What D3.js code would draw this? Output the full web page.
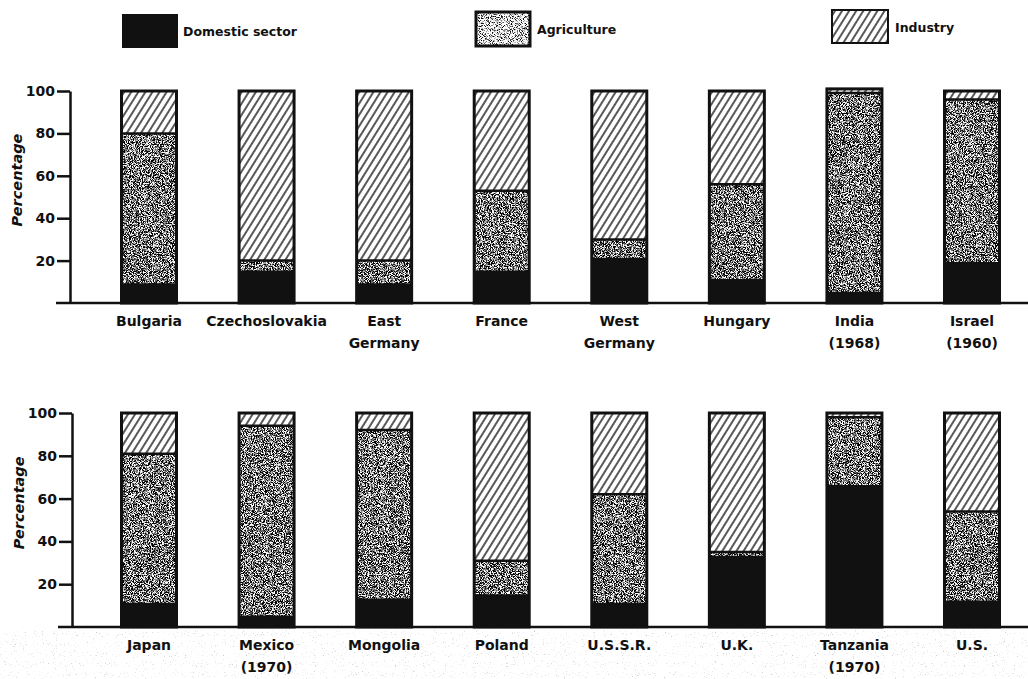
<!DOCTYPE html>
<meta charset="utf-8">
<head>
<script src="https://d3js.org/d3.v7.min.js"></script>
<style>
body { margin: 0; background: #fff; }
text { font-family: "DejaVu Sans", sans-serif; font-weight: bold; fill: #111; }
.tick text { font-size: 14px; }
</style>
</head>
<body>
<div id="chart"></div>
<script>
// legend / sector names
var sectors = ["Domestic sector", "Agriculture", "Industry"];

// top panel
var countriesTop = ["Bulgaria", "Czechoslovakia", "East\nGermany", "France", "West\nGermany", "Hungary", "India\n(1968)", "Israel\n(1960)"];
var domesticTop    = [9, 15, 9, 15, 21, 11, 5, 19];
var agricultureTop = [71, 5, 11, 38, 9, 45, 94, 77];
var industryTop    = [20, 80, 80, 47, 70, 44, 2, 4];

// bottom panel
var countriesBottom = ["Japan", "Mexico\n(1970)", "Mongolia", "Poland", "U.S.S.R.", "U.K.", "Tanzania\n(1970)", "U.S."];
var domesticBottom    = [11, 5, 13, 15, 11, 33, 66, 12];
var agricultureBottom = [70, 89, 79, 16, 51, 2, 32, 42];
var industryBottom    = [19, 6, 8, 69, 38, 65, 2, 46];

var yTicks = [20, 40, 60, 80, 100];

var W = 1028, H = 679;
var svg = d3.select("#chart").append("svg")
    .attr("width", W)
    .attr("height", H);

var defs = svg.append("defs");

// noise -> black speckle filter
function speckle(id, freq, seed, slope, intercept) {
  var f = defs.append("filter").attr("id", id)
      .attr("x", 0).attr("y", 0).attr("width", 1).attr("height", 1);
  f.append("feTurbulence").attr("type", "fractalNoise")
      .attr("baseFrequency", freq).attr("numOctaves", 2).attr("seed", seed);
  f.append("feColorMatrix").attr("type", "matrix")
      .attr("values", "0 0 0 0 0  0 0 0 0 0  0 0 0 0 0  1 0 0 0 0");
  f.append("feComponentTransfer").append("feFuncA")
      .attr("type", "linear").attr("slope", slope).attr("intercept", intercept);
}
speckle("stipple", 1.1, 4, -5, 3.05);
speckle("stippleLight", 1.1, 7, -5, 2.6);
speckle("scan", 0.9, 11, -5, 1.7);

// diagonal hatch for industry
var hatch = defs.append("pattern").attr("id", "hatch")
    .attr("patternUnits", "userSpaceOnUse")
    .attr("width", 6).attr("height", 6)
    .attr("patternTransform", "rotate(32)");
hatch.append("rect").attr("width", 6).attr("height", 6).attr("fill", "#fff");
hatch.append("line").attr("x1", 3).attr("y1", 0).attr("x2", 3).attr("y2", 6)
    .attr("stroke", "#111").attr("stroke-width", 1.4);

// scanner speckle along the bottom
svg.append("rect")
    .attr("x", 0).attr("y", 630).attr("width", W).attr("height", H - 630)
    .attr("fill", "#000").attr("opacity", 0.22)
    .attr("filter", "url(#scan)");

// legend
var legendX = [122, 476, 832];
var legend = svg.selectAll(".legend")
    .data(sectors)
    .enter().append("g")
    .attr("class", "legend")
    .attr("transform", function(d, i) { return "translate(" + legendX[i] + "," + (14 - i * 2) + ")"; });

legend.each(function(d, i) {
  var g = d3.select(this);
  if (i === 0) {
    g.append("rect").attr("width", 56).attr("height", 34).attr("fill", "#111");
  } else if (i === 1) {
    g.append("rect").attr("width", 54).attr("height", 34).attr("fill", "#fff");
    g.append("rect").attr("width", 54).attr("height", 34).attr("filter", "url(#stippleLight)");
    g.append("rect").attr("width", 54).attr("height", 34).attr("fill", "none")
      .attr("stroke", "#111").attr("stroke-width", 3);
  } else {
    g.append("rect").attr("width", 56).attr("height", 33).attr("fill", "url(#hatch)")
      .attr("stroke", "#111").attr("stroke-width", 2);
  }
  g.append("text")
    .attr("x", i === 2 ? 63 : 61)
    .attr("y", 22)
    .style("font-size", "12.5px")
    .text(d);
});

function panel(countries, dom, agr, ind, y0, y100, axisX, labelY) {
  var x = d3.scalePoint()
      .domain(countries)
      .range([149, 972]);

  var y = d3.scaleLinear()
      .domain([0, 100])
      .range([y0, y100]);

  var bw = 55;
  var g = svg.append("g");

  // baseline
  g.append("line")
      .attr("x1", axisX - 14).attr("x2", W)
      .attr("y1", y(0)).attr("y2", y(0))
      .attr("stroke", "#111").attr("stroke-width", 2.5);

  // y axis
  var ax = g.append("g")
      .attr("transform", "translate(" + axisX + ",0)")
      .call(d3.axisLeft(y).tickValues(yTicks).tickSize(13).tickSizeOuter(0).tickPadding(2));
  ax.select(".domain").attr("stroke", "#111").attr("stroke-width", 2.5);
  ax.selectAll(".tick line").attr("stroke", "#111").attr("stroke-width", 2.5);
  ax.selectAll(".tick text").attr("fill", "#111").style("font-size", "14px")
      .style("font-family", "'DejaVu Sans', sans-serif").style("font-weight", "bold");

  g.append("text")
      .attr("transform", "translate(" + (axisX - 48) + "," + y(58) + ") rotate(-90)")
      .attr("text-anchor", "middle")
      .style("font-size", "14.5px")
      .style("font-style", "italic")
      .text("Percentage");

  var rows = countries.map(function(c, i) {
    return {c: c, dom: dom[i], agr: agr[i], ind: ind[i]};
  });

  var bars = g.selectAll(".bar")
      .data(rows)
      .enter().append("g")
      .attr("class", "bar")
      .attr("transform", function(d) { return "translate(" + (x(d.c) - bw / 2) + ",0)"; });

  // domestic
  bars.append("rect")
      .attr("y", function(d) { return y(d.dom); })
      .attr("width", bw)
      .attr("height", function(d) { return y(0) - y(d.dom); })
      .attr("fill", "#111");

  // agriculture
  bars.append("rect")
      .attr("y", function(d) { return y(d.dom + d.agr); })
      .attr("width", bw)
      .attr("height", function(d) { return y(d.dom) - y(d.dom + d.agr); })
      .attr("fill", "#fff");
  bars.append("rect")
      .attr("y", function(d) { return y(d.dom + d.agr); })
      .attr("width", bw)
      .attr("height", function(d) { return y(d.dom) - y(d.dom + d.agr); })
      .attr("filter", "url(#stipple)");

  // industry
  bars.append("rect")
      .attr("y", function(d) { return y(d.dom + d.agr + d.ind); })
      .attr("width", bw)
      .attr("height", function(d) { return y(d.dom + d.agr) - y(d.dom + d.agr + d.ind); })
      .attr("fill", "url(#hatch)");

  // segment dividers
  bars.append("line")
      .attr("x1", 0).attr("x2", bw)
      .attr("y1", function(d) { return y(d.dom + d.agr); })
      .attr("y2", function(d) { return y(d.dom + d.agr); })
      .attr("stroke", "#111").attr("stroke-width", 2.5);
  bars.append("line")
      .attr("x1", 0).attr("x2", bw)
      .attr("y1", function(d) { return y(d.dom); })
      .attr("y2", function(d) { return y(d.dom); })
      .attr("stroke", "#111").attr("stroke-width", 1.5);

  // outline
  bars.append("rect")
      .attr("y", function(d) { return y(d.dom + d.agr + d.ind); })
      .attr("width", bw)
      .attr("height", function(d) { return y(0) - y(d.dom + d.agr + d.ind); })
      .attr("fill", "none")
      .attr("stroke", "#111").attr("stroke-width", 3);

  // country labels
  var lab = g.selectAll(".lab")
      .data(countries)
      .enter().append("text")
      .attr("class", "lab")
      .attr("text-anchor", "middle")
      .style("font-size", "14px")
      .attr("transform", function(d) { return "translate(" + x(d) + "," + labelY + ")"; });
  lab.selectAll("tspan")
      .data(function(d) { return d.split("\n"); })
      .enter().append("tspan")
      .attr("x", 0)
      .attr("y", function(d, i) { return i * 22; })
      .text(function(d) { return d; });
}

panel(countriesTop, domesticTop, agricultureTop, industryTop, 303, 91, 70, 326);
panel(countriesBottom, domesticBottom, agricultureBottom, industryBottom, 627, 413, 72, 650);
</script>
</body>
</html>
